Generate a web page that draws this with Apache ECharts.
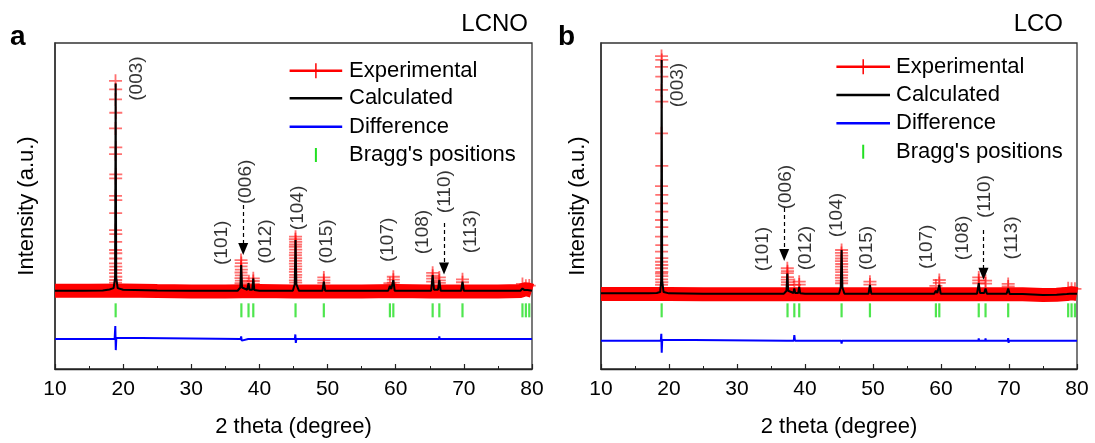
<!DOCTYPE html>
<html>
<head>
<meta charset="utf-8">
<script src="https://cdn.jsdelivr.net/npm/echarts@6/dist/echarts.min.js"></script>
<style>
html,body{margin:0;padding:0;background:#fff;}
#c{width:1095px;height:443px;}
</style>
</head>
<body>
<div id="c"></div>
<script>
// ---------------- DATA (y in arbitrary units 0..100) ----------------
// Panel a : LCNO
const bandA = [[10,24.0],[15,24.0],[20,24.1],[25,23.9],[30,23.8],[35,23.8],[40,23.9],[45,23.8],[50,23.8],[55,23.8],[60,23.9],[65,23.8],[70,23.8],[75,23.8],[78.4,23.9],[78.8,24.5],[79.4,24.4],[80,24.0]];
const peaksA = [
 [18.88,88.4],[18.9,85.8],[18.88,82.7],[18.92,78.6],[18.88,73.8],[18.92,68.0],[18.88,65.9],[18.92,59.7],[18.9,58.5],[18.88,53.1],[18.92,51.8],[18.9,47.8],[18.88,42.6],[18.92,41.4],[18.9,39.0],[18.88,36.5],[18.92,35.5],[18.9,33.9],[18.88,32.4],[18.92,31.4],[18.9,30.4],[18.88,29.4],[18.92,28.3],[18.9,27.3],[18.88,26.5],
 [37.3,33.4],[37.35,32.5],[37.3,31.5],[37.35,30.5],[37.3,29.6],[37.35,28.7],[37.3,27.9],[37.35,27.1],[37.3,26.3],
 [38.45,26.9],[39.1,27.8],[39.1,27.0],[39.1,26.2],
 [45.3,40.6],[45.28,39.8],[45.32,39.0],[45.3,38.2],[45.28,37.5],[45.32,36.6],[45.3,35.7],[45.28,34.9],[45.32,34.0],[45.3,33.2],[45.28,32.3],[45.32,31.5],[45.3,30.6],[45.28,29.8],[45.32,28.9],[45.3,28.1],[45.28,27.2],[45.32,26.5],
 [49.45,28.1],[49.45,27.2],[49.45,26.4],
 [59.15,26.3],[59.65,28.3],[59.65,27.4],[59.65,26.5],
 [65.42,29.5],[65.42,28.6],[65.42,27.7],[65.42,26.8],[66.4,28.1],[66.4,27.2],[66.4,26.4],
 [69.8,27.5],[69.8,26.6],
 [78.6,26.1],[79.1,25.5],[79.6,25.6]
];
const calcA = [[10,24.0],[14,24.0],[17,24.1],[18,24.4],[18.6,24.8],[18.82,28.0],[18.9,87.6],[18.98,28.0],[19.2,24.8],[20,24.3],[25,24.1],[30,24.0],[36.8,24.0],[37.2,25.0],[37.32,31.9],[37.45,25.0],[38.2,24.3],[38.4,26.3],[38.55,24.3],[38.95,24.3],[39.1,27.8],[39.25,24.2],[40,24.0],[44.9,24.0],[45.18,26.0],[45.3,39.6],[45.42,26.0],[45.8,24.0],[49.25,24.0],[49.45,26.8],[49.65,24.0],[58.9,24.0],[59.15,25.5],[59.35,24.5],[59.5,24.6],[59.65,27.3],[59.85,24.0],[65.2,24.0],[65.42,28.8],[65.62,24.3],[66.2,24.3],[66.4,27.3],[66.6,24.0],[69.6,24.0],[69.8,26.8],[70.0,24.0],[78.3,24.0],[78.6,24.7],[78.9,24.2],[79.1,24.7],[79.35,24.2],[79.6,24.6],[80,24.0]];
const diffA = [[10,9.2],[18.75,9.2],[18.85,13.2],[18.92,5.8],[19.0,9.6],[19.1,9.2],[37.25,9.2],[37.32,10.0],[37.4,8.7],[37.5,9.2],[38.35,9.2],[38.42,9.8],[38.5,9.2],[39.05,9.2],[39.1,9.8],[39.15,9.2],[45.2,9.2],[45.27,10.6],[45.34,8.0],[45.42,9.2],[49.4,9.2],[49.45,9.8],[49.5,9.2],[59.6,9.2],[59.65,9.8],[59.7,8.9],[59.75,9.2],[65.37,9.2],[65.42,9.8],[65.47,9.2],[66.35,9.2],[66.4,10.0],[66.45,9.2],[69.75,9.2],[69.8,9.7],[69.85,9.2],[78.6,9.2],[78.65,9.6],[78.7,9.2],[80,9.2]];
const braggA = [18.9,37.35,38.4,39.1,45.3,49.45,59.15,59.65,65.42,66.4,69.8,78.6,79.1,79.6];
const hklA = [['(003)',22.03,89.1],['(101)',34.48,38.7],['(006)',37.99,57.4],['(012)',40.92,39.1],['(104)',45.6,49.4],['(015)',49.83,39.1],['(107)',58.86,39.6],['(108)',64.0,42.0],['(110)',67.23,54.4],['(113)',70.95,42.1]];
const arrowsA = [[37.62,50.3,37.62,36.8],[67.09,44.8,67.09,30.8]];

// Panel b : LCO
const bandB = [[10,23.0],[15,23.0],[20,23.0],[25,22.9],[30,22.9],[35,22.9],[40,22.9],[45,22.9],[50,22.9],[55,22.9],[60,22.9],[65,22.9],[70,22.9],[72,22.9],[75,22.7],[77,22.8],[78.5,23.0],[79.2,23.3],[80,23.0]];
const peaksB = [
 [18.9,96.0],[18.94,94.8],[18.9,92.7],[18.94,89.7],[18.9,85.6],[18.94,82.0],[18.9,72.3],[18.94,62.3],[18.9,56.1],[18.94,53.4],[18.9,50.8],[18.94,48.3],[18.9,45.7],[18.94,43.5],[18.9,40.6],[18.94,38.0],[18.9,36.0],[18.94,34.0],[18.9,32.9],[18.94,31.9],[18.9,30.9],[18.94,29.8],[18.9,29.3],[18.94,28.5],[18.9,27.5],[18.94,26.6],[18.9,25.8],
 [37.4,30.9],[37.43,30.0],[37.4,29.4],[37.43,28.2],[37.4,27.4],[37.43,26.6],[37.4,25.8],
 [38.43,25.8],[39.15,26.8],[39.15,25.9],
 [45.38,36.5],[45.36,35.6],[45.4,34.8],[45.38,33.9],[45.36,33.1],[45.4,32.2],[45.38,31.4],[45.36,30.5],[45.4,29.7],[45.38,28.8],[45.36,28.0],[45.4,27.1],[45.38,26.3],
 [49.55,26.8],[49.55,25.9],
 [59.25,25.5],[59.75,27.3],[59.75,26.4],
 [65.55,28.1],[65.55,27.2],[65.55,26.3],[66.55,27.1],[66.55,26.2],
 [69.88,26.1],[69.88,25.3],
 [78.7,24.8],[79.2,24.6],[79.7,24.6]
];
const calcB = [[10,23.2],[14,23.2],[17,23.2],[18.2,23.3],[18.7,23.6],[18.85,27.0],[18.92,94.8],[19.0,27.0],[19.2,23.6],[20,23.2],[25,23.1],[30,23.1],[36.9,23.1],[37.28,24.0],[37.4,29.3],[37.52,24.0],[38.3,23.3],[38.43,24.7],[38.56,23.3],[39.0,23.3],[39.15,25.2],[39.3,23.2],[40,23.1],[45.0,23.1],[45.26,25.0],[45.38,36.5],[45.5,25.0],[45.8,23.1],[49.35,23.1],[49.55,25.8],[49.75,23.1],[59.0,23.1],[59.25,24.0],[59.45,23.3],[59.55,23.4],[59.75,25.8],[59.95,23.1],[65.3,23.1],[65.55,26.3],[65.75,23.3],[66.35,23.3],[66.55,24.7],[66.75,23.1],[69.65,23.1],[69.88,24.7],[70.1,23.0],[72,23.0],[75,22.7],[77,22.8],[78.5,23.0],[78.7,23.6],[78.95,23.1],[79.2,23.6],[79.45,23.1],[79.7,23.5],[80,23.1]];
const diffB = [[10,8.7],[18.8,8.7],[18.87,10.8],[18.93,5.0],[19.0,9.0],[19.1,8.7],[37.3,8.7],[37.4,8.2],[37.5,8.7],[38.35,8.7],[38.43,10.4],[38.52,8.7],[39.1,8.7],[39.15,9.2],[39.2,8.7],[45.3,8.7],[45.38,7.8],[45.46,8.7],[49.5,8.7],[49.55,8.3],[49.6,8.7],[59.2,8.7],[59.25,9.1],[59.3,8.7],[59.7,8.7],[59.75,9.3],[59.8,8.7],[65.5,8.7],[65.55,9.4],[65.6,8.7],[66.5,8.7],[66.55,9.4],[66.6,8.7],[69.82,8.7],[69.88,9.5],[69.94,8.0],[70.0,8.7],[80,8.7]];
const braggB = [18.92,37.43,38.43,39.15,45.38,49.55,59.25,59.75,65.55,66.55,69.88,78.7,79.2,79.7];
const hklB = [['(003)',21.34,87.1],['(101)',33.81,36.8],['(006)',37.21,55.8],['(012)',40.15,37.1],['(104)',44.68,47.2],['(015)',49.04,37.1],['(107)',57.91,37.5],['(108)',63.16,40.2],['(110)',66.41,52.9],['(113)',70.37,40.2]];
const arrowsB = [[36.94,49.4,36.94,35.0],[66.25,42.6,66.25,29.2]];

const xTicks = [10,20,30,40,50,60,70,80];
const legendNames = ['Experimental','Calculated','Difference',"Bragg's positions"];
const titles = ['LCNO','LCO'];
const letters = ['a','b'];

// ---------------- STYLE ----------------
const FONT = 'Arial, "Liberation Sans", Helvetica, sans-serif';
const RED = '#ff0000', BLUE = '#0000ff', GREEN = '#22e022';
const PLUS = 'path://M0,43H43V0H57V43H100V57H57V100H43V57H0Z';
const BRAGG_Y = 18.0;

const chart = echarts.init(document.getElementById('c'));

const grids = [
  {left:55, top:43, width:477, height:326},
  {left:601, top:43, width:476, height:326}
];

function xAxisFor(i){
  return {
    gridIndex:i, type:'value', min:xTicks[0], max:xTicks[xTicks.length-1], interval:10,
    name:'2 theta (degree)', nameLocation:'middle', nameGap:47,
    nameTextStyle:{fontFamily:FONT, fontSize:22, color:'#000'},
    axisLine:{show:true, lineStyle:{color:'#222', width:1.3}},
    axisTick:{show:true, inside:true, length:5, lineStyle:{color:'#222', width:1.2}},
    minorTick:{show:true, splitNumber:2, length:3, lineStyle:{color:'#222', width:1}},
    axisLabel:{fontFamily:FONT, fontSize:21, color:'#000', margin:10},
    splitLine:{show:false}
  };
}
function yAxisFor(i, gap){
  return {
    gridIndex:i, type:'value', min:0, max:100,
    name:'Intensity (a.u.)', nameLocation:'middle', nameGap:gap,
    nameTextStyle:{fontFamily:FONT, fontSize:22, color:'#000'},
    axisLine:{show:true, lineStyle:{color:'#333', width:1.5}},
    axisTick:{show:false}, axisLabel:{show:false}, splitLine:{show:false}
  };
}

function panelSeries(i, band, peaks, calc, diff, bragg, hkl, arrows){
  return [
    {type:'line', xAxisIndex:i, yAxisIndex:i, data:band, symbol:'none', silent:true,
     lineStyle:{color:RED, width:14, cap:'butt'}, z:1},
    {type:'scatter', xAxisIndex:i, yAxisIndex:i, data:peaks, symbol:PLUS, symbolSize:13, silent:true,
     itemStyle:{color:'rgba(255,0,0,0.7)'}, z:2},
    {type:'line', xAxisIndex:i, yAxisIndex:i, data:calc, symbol:'none', silent:true,
     lineStyle:{color:'#000', width:2}, z:3},
    {type:'line', xAxisIndex:i, yAxisIndex:i, data:diff, symbol:'none', silent:true,
     lineStyle:{color:BLUE, width:2}, z:3},
    {type:'scatter', xAxisIndex:i, yAxisIndex:i, data:bragg.map(x=>[x,BRAGG_Y]), symbol:'rect', symbolSize:[2.2,14], silent:true,
     itemStyle:{color:GREEN}, z:3},
    {type:'scatter', xAxisIndex:i, yAxisIndex:i, silent:true, symbolSize:1,
     itemStyle:{color:'transparent'},
     data:hkl.map(h=>({name:h[0], value:[h[1],h[2]]})),
     label:{show:true, position:'inside', rotate:90, formatter:'{b}', fontFamily:FONT, fontSize:19, color:'#000'},
     markLine:{silent:true, symbol:['none','triangle'], symbolSize:[10,12], animation:false,
       label:{show:false},
       lineStyle:{color:'#000', width:1.2, type:[4,3]},
       data:arrows.map(a=>[{coord:[a[0],a[1]]},{coord:[a[2],a[3]]}])},
     z:4}
  ];
}

function legendGraphics(x0, x1, tx, ys){
  const xm = (x0+x1)/2;
  const g = [];
  g.push({type:'line', shape:{x1:x0,y1:ys[0],x2:x1,y2:ys[0]}, style:{stroke:RED, lineWidth:2.5}});
  g.push({type:'line', shape:{x1:xm,y1:ys[0]-7.5,x2:xm,y2:ys[0]+7.5}, style:{stroke:RED, lineWidth:1.5}});
  g.push({type:'line', shape:{x1:x0,y1:ys[1],x2:x1,y2:ys[1]}, style:{stroke:'#000', lineWidth:2.5}});
  g.push({type:'line', shape:{x1:x0,y1:ys[2],x2:x1,y2:ys[2]}, style:{stroke:BLUE, lineWidth:2.5}});
  g.push({type:'rect', shape:{x:xm-1,y:ys[3]-7,width:2,height:14}, style:{fill:GREEN}});
  legendNames.forEach((n,k)=>{
    g.push({type:'text', x:tx, y:ys[k], style:{text:n, fontFamily:FONT, fontSize:22, fill:'#000', verticalAlign:'middle', align:'left'}});
  });
  return g;
}

const graphic = [].concat(
  legendGraphics(289.6, 342.2, 349, [70.7, 98.3, 126.7, 155]),
  legendGraphics(836.4, 890, 896, [66.7, 95, 123.3, 151.7]),
  [
    {type:'text', x:528, y:24, style:{text:titles[0], fontFamily:FONT, fontSize:24, fill:'#000', align:'right', verticalAlign:'middle'}},
    {type:'text', x:1063, y:24, style:{text:titles[1], fontFamily:FONT, fontSize:24, fill:'#000', align:'right', verticalAlign:'middle'}},
    {type:'text', x:10, y:37, style:{text:letters[0], fontFamily:FONT, fontSize:28, fontWeight:'bold', fill:'#000', align:'left', verticalAlign:'middle'}},
    {type:'text', x:558, y:37, style:{text:letters[1], fontFamily:FONT, fontSize:28, fontWeight:'bold', fill:'#000', align:'left', verticalAlign:'middle'}}
  ]
);

chart.setOption({
  animation:false,
  backgroundColor:'#fff',
  grid: grids.map(g=>Object.assign({show:true, borderColor:'#333', borderWidth:1.3, backgroundColor:'transparent'}, g)),
  xAxis:[xAxisFor(0), xAxisFor(1)],
  yAxis:[yAxisFor(0,17), yAxisFor(1,12)],
  series: [].concat(
    panelSeries(0, bandA, peaksA, calcA, diffA, braggA, hklA, arrowsA),
    panelSeries(1, bandB, peaksB, calcB, diffB, braggB, hklB, arrowsB)
  ),
  graphic: graphic
});
</script>
</body>
</html>
